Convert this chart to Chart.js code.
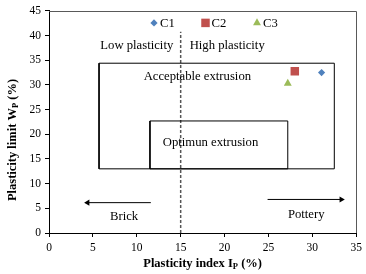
<!DOCTYPE html>
<html>
<head>
<meta charset="utf-8">
<script src="https://cdn.jsdelivr.net/npm/chart.js@4/dist/chart.umd.min.js"></script>
<style>
  html, body { margin: 0; padding: 0; background: #fff; }
</style>
</head>
<body>
<canvas id="chart" width="366" height="274"></canvas>
<script>
// samples: plasticity index Ip (x) and plasticity limit Wp (y)
var sampleNames = ["C1", "C2", "C3"];
var plasticityIndex = [31.05, 28.0, 27.2];
var plasticityLimit = [32.5, 32.75, 30.3];

// tick labels
var xTicks = [0, 5, 10, 15, 20, 25, 30, 35];
var yTicks = [0, 5, 10, 15, 20, 25, 30, 35, 40, 45];

// extrusion zones (closed outlines)
var acceptableX = [5.7, 32.5, 32.5, 5.7, 5.7];
var acceptableY = [13, 13, 34.4, 34.4, 13];
var optimumX = [11.5, 27.2, 27.2, 11.5, 11.5];
var optimumY = [13, 13, 22.7, 22.7, 13];

// Ip = 15 boundary between low and high plasticity
var limitX = [15, 15];
var limitY = [0, 40.8];

// arrows
var brickX = [11.6, 4.4];
var brickY = [6.15, 6.15];
var potteryX = [24.9, 33.3];
var potteryY = [6.8, 6.8];

// notes written on the chart
var noteTexts = ["Low plasticity", "High plasticity", "Acceptable extrusion", "Optimun extrusion", "Brick", "Pottery"];
var noteX = [10.0, 20.3, 16.9, 18.4, 8.55, 29.3];
var noteY = [38.0, 38.0, 31.7, 18.3, 3.3, 3.8];

var serif = '"Liberation Serif", "Times New Roman", serif';
var colors = ["#4F81BD", "#C0504D", "#9BBB59"];
var shapes = ["rectRot", "rect", "triangle"];
var radii = [3.6, 6, 4.6];

function toPoints(xs, ys) {
    var pts = [];
    for (var i = 0; i < xs.length; i++) {
        pts.push({x: xs[i], y: ys[i]});
    }
    return pts;
}

function outline(xs, ys, extra) {
    var ds = {
        data: toPoints(xs, ys),
        showLine: true,
        borderColor: "#000",
        borderWidth: 1,
        pointRadius: 0,
        pointHoverRadius: 0,
        fill: false,
        tension: 0,
        order: 2
    };
    for (var k in extra) ds[k] = extra[k];
    return ds;
}

var datasets = [];
for (var i = 0; i < sampleNames.length; i++) {
    datasets.push({
        label: sampleNames[i],
        data: [{x: plasticityIndex[i], y: plasticityLimit[i]}],
        pointStyle: shapes[i],
        pointRadius: radii[i],
        backgroundColor: colors[i],
        borderColor: colors[i],
        borderWidth: 0,
        order: 1
    });
}
datasets.push(outline(acceptableX, acceptableY, {}));
datasets.push(outline(optimumX, optimumY, {}));
datasets.push(outline(limitX, limitY, {borderColor: "#555", borderWidth: 1.5, borderDash: [3, 2]}));
datasets.push(outline(brickX, brickY, {
    pointRadius: [0, 3.5], pointStyle: "triangle", pointRotation: -90,
    pointBackgroundColor: "#000", pointBorderWidth: 0
}));
datasets.push(outline(potteryX, potteryY, {
    pointRadius: [0, 3.5], pointStyle: "triangle", pointRotation: 90,
    pointBackgroundColor: "#000", pointBorderWidth: 0
}));

// draw text with a subscript part, optionally rotated
function drawTitle(ctx, parts, cx, cy, rotate) {
    var big = "bold 12.5px " + serif;
    var small = "bold 8.5px " + serif;
    var total = 0;
    parts.forEach(function(p) {
        ctx.font = p.sub ? small : big;
        total += ctx.measureText(p.t).width;
    });
    ctx.save();
    ctx.translate(cx, cy);
    if (rotate) ctx.rotate(-Math.PI / 2);
    ctx.fillStyle = "#000";
    ctx.textBaseline = "alphabetic";
    ctx.textAlign = "left";
    var x = -total / 2;
    parts.forEach(function(p) {
        ctx.font = p.sub ? small : big;
        ctx.fillText(p.t, x, p.sub ? 6 : 4);
        x += ctx.measureText(p.t).width;
    });
    ctx.restore();
}

function marker(ctx, shape, r, x, y) {
    ctx.beginPath();
    if (shape === "rectRot") {
        ctx.moveTo(x, y - r); ctx.lineTo(x + r, y); ctx.lineTo(x, y + r); ctx.lineTo(x - r, y);
    } else if (shape === "rect") {
        var s = r * Math.SQRT1_2;
        ctx.rect(x - s, y - s, 2 * s, 2 * s);
    } else {
        ctx.moveTo(x, y - r);
        ctx.lineTo(x + r * 0.866, y + r / 2);
        ctx.lineTo(x - r * 0.866, y + r / 2);
    }
    ctx.closePath();
    ctx.fill();
}

var extras = {
    id: "extras",
    afterDraw: function(chart) {
        var ctx = chart.ctx;
        var a = chart.chartArea;
        var xs = chart.scales.x, ys = chart.scales.y;

        // top and right frame of the plot area
        ctx.save();
        ctx.strokeStyle = "#595959";
        ctx.lineWidth = 1;
        ctx.beginPath();
        ctx.moveTo(Math.round(a.left), Math.round(a.top) + 0.5);
        ctx.lineTo(Math.round(a.right) + 0.5, Math.round(a.top) + 0.5);
        ctx.lineTo(Math.round(a.right) + 0.5, Math.round(a.bottom));
        ctx.stroke();

        // notes
        ctx.fillStyle = "#000";
        ctx.font = "12.7px " + serif;
        ctx.textAlign = "center";
        ctx.textBaseline = "middle";
        for (var i = 0; i < noteTexts.length; i++) {
            ctx.fillText(noteTexts[i], xs.getPixelForValue(noteX[i]), ys.getPixelForValue(noteY[i]));
        }

        // legend inside the plot area
        var lx = a.left + 105, ly = a.top + 12;
        ctx.textAlign = "left";
        for (var j = 0; j < sampleNames.length; j++) {
            var mx = lx + j * 51.5;
            ctx.fillStyle = colors[j];
            marker(ctx, shapes[j], radii[j], mx, ly);
            ctx.fillStyle = "#000";
            ctx.font = "12.7px " + serif;
            ctx.fillText(sampleNames[j], mx + 6, ly + 0.5);
        }
        ctx.restore();

        // axis titles with subscript P
        drawTitle(ctx, [{t: "Plasticity index I"}, {t: "P", sub: true}, {t: " (%)"}],
            (a.left + a.right) / 2, 263, false);
        drawTitle(ctx, [{t: "Plasticity limit W"}, {t: "P", sub: true}, {t: " (%)"}],
            12, 140, true);
    }
};

function axis(min, max, ticks, fit) {
    return {
        type: "linear",
        min: min,
        max: max,
        afterBuildTicks: function(s) {
            s.ticks = ticks.map(function(v) { return {value: v}; });
        },
        afterFit: fit,
        grid: {display: true, drawOnChartArea: false, drawTicks: true, tickLength: 4, color: "#000"},
        border: {display: true, color: "#000", width: 1},
        ticks: {color: "#000", font: {family: serif, size: 11.5}, padding: 4}
    };
}

new Chart(document.getElementById("chart"), {
    type: "scatter",
    data: {datasets: datasets},
    plugins: [extras],
    options: {
        responsive: false,
        animation: false,
        layout: {padding: {left: 0, right: 9, top: 9, bottom: 0}},
        plugins: {legend: {display: false}, tooltip: {enabled: false}},
        scales: {
            x: axis(0, 35, xTicks, function(s) { s.height = 41; }),
            y: axis(0, 45, yTicks, function(s) { s.width = 49; })
        }
    }
});
</script>
</body>
</html>
